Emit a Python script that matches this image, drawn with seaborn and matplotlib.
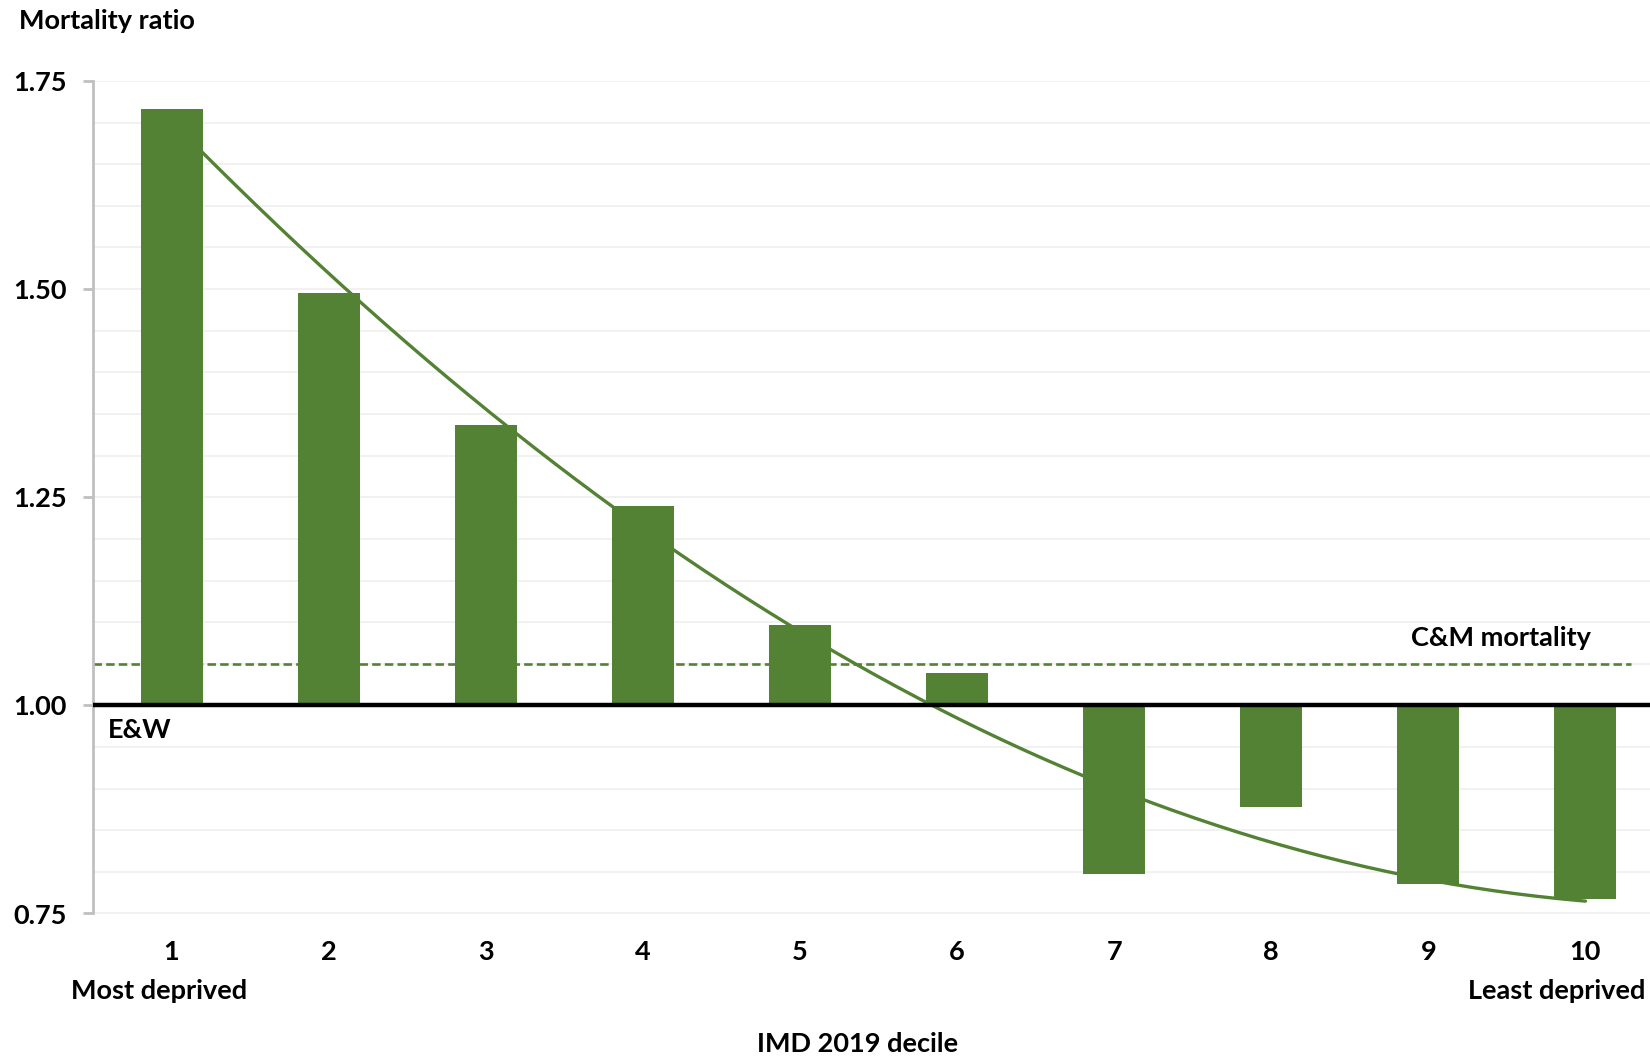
import numpy as np
import pandas as pd
import matplotlib
matplotlib.use("Agg")
import matplotlib.pyplot as plt
from matplotlib.ticker import MultipleLocator, FormatStrFormatter
import seaborn as sns

# Mortality ratio by IMD 2019 decile (1 = most deprived, 10 = least deprived)
deciles = ["1", "2", "3", "4", "5", "6", "7", "8", "9", "10"]
mortality_ratio = [1.716, 1.495, 1.337, 1.240, 1.097, 1.039, 0.798, 0.878, 0.786, 0.768]
baseline_ew = 1.00        # England & Wales reference
cm_mortality = 1.05       # C&M mortality reference
y_ticks = [0.75, 1.00, 1.25, 1.50, 1.75]

GREEN = "#548235"
FS = 19.5

sns.set_theme(style="white")
plt.rcParams["font.family"] = ["Lato", "DejaVu Sans"]
plt.rcParams["font.weight"] = "bold"

W, H = 1650, 1057
fig = plt.figure(figsize=(W / 100, H / 100), dpi=100)
ax_left, ax_bottom_px, ax_top_px = 93, 913.5, 81
cat_px = 157.1
ax = fig.add_axes([ax_left / W, 1 - ax_bottom_px / H,
                   cat_px * 10 / W, (ax_bottom_px - ax_top_px) / H])

df = pd.DataFrame({"decile": deciles, "ratio": mortality_ratio})
df["deviation"] = df["ratio"] - baseline_ew

# bars grow up or down from the E&W baseline
sns.barplot(data=df, x="decile", y="deviation", bottom=baseline_ew,
            color=GREEN, saturation=1, width=0.395, errorbar=None,
            linewidth=0, ax=ax, zorder=3)

# polynomial (order 2) trend line through the decile ratios
pos = np.arange(len(deciles))
coef = np.polyfit(pos + 1, df["ratio"], 2)
xs = np.linspace(0, len(deciles) - 1, 200)
trend = pd.DataFrame({"x": xs, "y": np.polyval(coef, xs + 1)})
sns.lineplot(data=trend, x="x", y="y", color=GREEN, linewidth=2.4,
             ax=ax, zorder=2)

# reference lines
ax.axhline(baseline_ew, color="black", linewidth=3.2, zorder=4)
ax.hlines(cm_mortality, -0.5, 9.29, colors=GREEN, linewidth=1.9,
          linestyles=(0, (3.2, 1.6)), zorder=2)

ax.set_xlim(-0.5, 9.5)
ax.set_ylim(0.75, 1.75)
ax.yaxis.set_major_locator(plt.FixedLocator(y_ticks))
ax.yaxis.set_minor_locator(MultipleLocator(0.05))
ax.yaxis.set_major_formatter(FormatStrFormatter("%.2f"))
ax.grid(False)
ax.grid(axis="y", which="both", color="#efefef", linewidth=1.2, zorder=0)
ax.set_axisbelow(True)

for side in ["top", "right", "bottom"]:
    ax.spines[side].set_visible(False)
ax.spines["left"].set_color("#c0c0c0")
ax.spines["left"].set_linewidth(2.0)

ax.tick_params(axis="y", which="major", length=7, width=2.0, color="#c0c0c0",
               pad=12, labelsize=FS, labelcolor="black", left=True)
ax.tick_params(axis="y", which="minor", length=0)
ax.tick_params(axis="x", length=0, pad=19, labelsize=FS, labelcolor="black")
for lbl in ax.get_xticklabels() + ax.get_yticklabels():
    lbl.set_fontweight("bold")

ax.set_xlabel("")
ax.set_ylabel("")

txt = dict(fontsize=FS, fontweight="bold", color="black")
fig.text(19 / W, 1 - 21 / H, "Mortality ratio", ha="left", va="center", **txt)
fig.text(159 / W, 1 - 991 / H, "Most deprived", ha="center", va="center", **txt)
fig.text(1557 / W, 1 - 991 / H, "Least deprived", ha="center", va="center", **txt)
fig.text(858 / W, 1 - 1044 / H, "IMD 2019 decile", ha="center", va="center", **txt)
fig.text(1501 / W, 1 - 638 / H, "C&M mortality", ha="center", va="center", **txt)
fig.text(108 / W, 1 - 730 / H, "E&W", ha="left", va="center", **txt)

fig.savefig("out.png", dpi=100, facecolor="white")
